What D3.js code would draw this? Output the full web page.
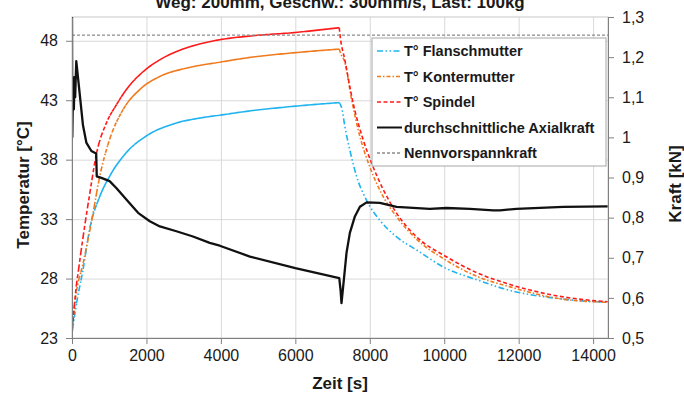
<!DOCTYPE html>
<html lang="de">
<head>
<meta charset="UTF-8">
<title>Temperatur und Axialkraft</title>
<script src="https://d3js.org/d3.v7.min.js"></script>
<style>
  body { margin: 0; background: #fff; }
  svg { font-family: "Liberation Sans", Arial, sans-serif; }
  .axis .tick text { font-size: 16px; fill: #1a1a1a; }
  .axis path, .axis line { stroke: #808080; }
  .grid line { stroke: #d9d9d9; }
  .grid path { display: none; }
</style>
</head>
<body>
<div id="chart"></div>
<script>
const title = "Weg: 200mm, Geschw.: 300mm/s, Last: 100kg";
const xTicks = [0, 2000, 4000, 6000, 8000, 10000, 12000, 14000];
const tempTicks = [23, 28, 33, 38, 43, 48];
const forceTicks = [0.5, 0.6, 0.7, 0.8, 0.9, 1.0, 1.1, 1.2, 1.3];
const heatEnd = 7180; // last sample before the spindle stops

// [Zeit s, Temperatur °C]
const flanschmutter = [[0, 23.4], [120, 25.9], [300, 28.8], [475, 32.2], [745, 34.9], [1010, 36.6],
  [1460, 38.6], [2000, 40.0], [2715, 41.0], [3430, 41.5], [3990, 41.75], [4780, 42.1], [6000, 42.5],
  [7180, 42.8], [7250, 42.3], [7330, 40.8], [7465, 38.8], [7645, 36.6], [7910, 34.6], [8270, 32.9],
  [8720, 31.5], [9260, 30.4], [10020, 28.9], [10870, 27.9], [11770, 27.0], [13110, 26.3], [14390, 26.0]];
const kontermutter = [[0, 23.4], [75, 25.9], [300, 29.3], [520, 32.7], [745, 36.6], [1010, 39.7],
  [1370, 42.2], [1820, 43.9], [2360, 45.0], [3075, 45.7], [3970, 46.2], [4780, 46.6], [6000, 47.0],
  [7180, 47.3], [7210, 47.0], [7330, 46.2], [7510, 43.1], [7730, 40.0], [8000, 37.4], [8360, 34.9],
  [8720, 33.2], [9260, 31.3], [10020, 29.6], [10870, 28.2], [11770, 27.3], [13110, 26.3], [14390, 26.0]];
const spindel = [[0, 23.3], [75, 26.2], [200, 29.3], [340, 32.4], [480, 35.2], [650, 38.4], [925, 41.1],
  [1190, 42.6], [1460, 43.9], [1910, 45.4], [2360, 46.4], [2980, 47.3], [3520, 47.8], [3990, 48.1],
  [4780, 48.4], [6000, 48.7], [7180, 49.1], [7200, 48.5], [7330, 46.4], [7550, 42.8], [7820, 39.7],
  [8050, 37.7], [8360, 35.5], [8720, 33.5], [9260, 31.5], [10020, 29.9], [10870, 28.5], [11770, 27.5],
  [13110, 26.5], [14390, 26.05]];

// [Zeit s, Kraft kN]
const axialkraft = [[0, 1.31], [8, 1.0], [30, 1.15], [50, 1.07], [70, 1.15], [85, 1.10], [115, 1.19],
  [205, 1.11], [295, 1.03], [385, 0.987], [520, 0.966], [650, 0.96], [665, 0.903], [790, 0.899],
  [1010, 0.891], [1190, 0.874], [1460, 0.845], [1775, 0.812], [2090, 0.791], [2360, 0.778],
  [2805, 0.766], [3250, 0.753], [3700, 0.737], [3970, 0.73], [4780, 0.703], [6000, 0.674],
  [7180, 0.649], [7215, 0.62], [7240, 0.587], [7285, 0.628], [7330, 0.67], [7375, 0.712],
  [7465, 0.762], [7600, 0.803], [7735, 0.827], [7915, 0.838], [8270, 0.837], [8720, 0.827],
  [9610, 0.822], [10060, 0.824], [10690, 0.822], [11320, 0.818], [11500, 0.818], [11940, 0.822],
  [13200, 0.827], [14390, 0.828]];
const nennvorspannkraft = 1.255;

const width = 684, height = 396;
const margin = {top: 17, right: 76, bottom: 58, left: 72};
const innerW = width - margin.left - margin.right;
const innerH = height - margin.top - margin.bottom;

const x = d3.scaleLinear().domain([0, 14400]).range([0, innerW]);
const yT = d3.scaleLinear().domain([23, 50]).range([innerH, 0]);
const yK = d3.scaleLinear().domain([0.5, 1.3]).range([innerH, 0]);

const svg = d3.select("#chart").append("svg")
    .attr("width", width)
    .attr("height", height);

svg.append("defs").append("clipPath").attr("id", "plot")
  .append("rect").attr("width", innerW).attr("height", innerH);

const g = svg.append("g").attr("transform", `translate(${margin.left},${margin.top})`);

// grid
g.append("g").attr("class", "grid")
  .call(d3.axisLeft(yT).tickValues(tempTicks.slice(1)).tickSize(-innerW).tickFormat(""));
g.append("g").attr("class", "grid").attr("transform", `translate(0,${innerH})`)
  .call(d3.axisBottom(x).tickValues(xTicks.slice(1)).tickSize(-innerH).tickFormat(""));
g.append("rect").attr("width", innerW).attr("height", innerH)
  .attr("fill", "none").attr("stroke", "#c8c8c8");

const series = [
  {name: "T° Flanschmutter", data: flanschmutter, color: "#1fb4f0", dash: "6,2.5,1.5,2.5,1.5,2.5"},
  {name: "T° Kontermutter", data: kontermutter, color: "#f07a1e", dash: "4,2,1.5,2"},
  {name: "T° Spindel", data: spindel, color: "#ff1a1a", dash: "4,2.5"}
];

const plot = g.append("g").attr("clip-path", "url(#plot)");
const lineT = d3.line().x(d => x(d[0])).y(d => yT(d[1])).curve(d3.curveMonotoneX);

// the original plot restarts the dash at every logged sample, so the dense heating
// phase looks solid where it is flat and dashed where it climbs fast
const sampleStep = 60;
function restartPath(points) {
  const tmp = plot.append("path").attr("d", lineT(points));
  const node = tmp.node(), total = node.getTotalLength();
  const step = x(sampleStep) - x(0);
  const pts = [];
  let nextX = x(points[0][0]);
  for (let l = 0; l <= total; l += 0.25) {
    const p = node.getPointAtLength(l);
    if (p.x >= nextX) {
      pts.push([p.x, p.y]);
      while (nextX <= p.x) nextX += step;
    }
  }
  const end = node.getPointAtLength(total);
  pts.push([end.x, end.y]);
  tmp.remove();
  let d = "";
  for (let i = 1; i < pts.length; i++) d += `M${pts[i - 1]}L${pts[i]}`;
  return d;
}

series.forEach(s => {
  const heat = s.data.filter(d => d[0] <= heatEnd);
  const cool = s.data.filter(d => d[0] >= heatEnd);
  plot.append("path")
    .attr("d", restartPath(heat))
    .attr("fill", "none").attr("stroke", s.color)
    .attr("stroke-width", 1.6).attr("stroke-dasharray", s.dash);
  plot.append("path")
    .attr("d", lineT(cool))
    .attr("fill", "none").attr("stroke", s.color)
    .attr("stroke-width", 1.6).attr("stroke-dasharray", s.dash);
});

plot.append("line")
  .attr("x1", 0).attr("x2", innerW)
  .attr("y1", yK(nennvorspannkraft)).attr("y2", yK(nennvorspannkraft))
  .attr("stroke", "#8c8c8c").attr("stroke-width", 1.3).attr("stroke-dasharray", "3,2");

plot.append("path")
  .datum(axialkraft)
  .attr("d", d3.line().x(d => x(d[0])).y(d => yK(d[1])))
  .attr("fill", "none").attr("stroke", "#111").attr("stroke-width", 2.3)
  .attr("stroke-linejoin", "round");

// axes
g.append("g").attr("class", "axis")
  .call(d3.axisLeft(yT).tickValues(tempTicks).tickSizeOuter(0).tickPadding(8));
g.append("g").attr("class", "axis").attr("transform", `translate(${innerW},0)`)
  .call(d3.axisRight(yK).tickValues(forceTicks).tickSizeOuter(0).tickPadding(8)
    .tickFormat(d => String(+d.toFixed(1)).replace(".", ",")));
g.append("g").attr("class", "axis").attr("transform", `translate(0,${innerH})`)
  .call(d3.axisBottom(x).tickValues(xTicks).tickSizeOuter(0).tickPadding(6).tickFormat(d => d));

// titles
svg.append("text").attr("x", margin.left + innerW / 2).attr("y", 8)
  .attr("text-anchor", "middle").attr("font-weight", "bold").attr("font-size", 17)
  .attr("fill", "#1a1a1a").text(title);
svg.append("text").attr("x", margin.left + innerW / 2).attr("y", 389)
  .attr("text-anchor", "middle").attr("font-weight", "bold").attr("font-size", 17)
  .attr("fill", "#1a1a1a").text("Zeit [s]");
svg.append("text").attr("transform", "translate(29,185) rotate(-90)")
  .attr("text-anchor", "middle").attr("font-weight", "bold").attr("font-size", 17)
  .attr("fill", "#1a1a1a").text("Temperatur [°C]");
svg.append("text").attr("transform", "translate(681,184) rotate(-90)")
  .attr("text-anchor", "middle").attr("font-weight", "bold").attr("font-size", 17)
  .attr("fill", "#1a1a1a").text("Kraft [kN]");

// legend
const legendItems = series.concat([
  {name: "durchschnittliche Axialkraft", color: "#111", dash: null, w: 2},
  {name: "Nennvorspannkraft", color: "#8c8c8c", dash: "3,2", w: 1.3}
]);
const legend = svg.append("g").attr("transform", "translate(372,38)");
legend.append("rect").attr("width", 234).attr("height", 128)
  .attr("fill", "#fff").attr("stroke", "#a6a6a6");
legendItems.forEach((s, i) => {
  const row = legend.append("g").attr("transform", `translate(0,${13 + i * 25.5})`);
  row.append("line").attr("x1", 5).attr("x2", 30)
    .attr("stroke", s.color).attr("stroke-width", s.w || 1.6)
    .attr("stroke-dasharray", s.dash);
  row.append("text").attr("x", 32).attr("y", 5)
    .attr("font-weight", "bold").attr("font-size", 14.5).attr("fill", "#1a1a1a")
    .text(s.name);
});
</script>
</body>
</html>
